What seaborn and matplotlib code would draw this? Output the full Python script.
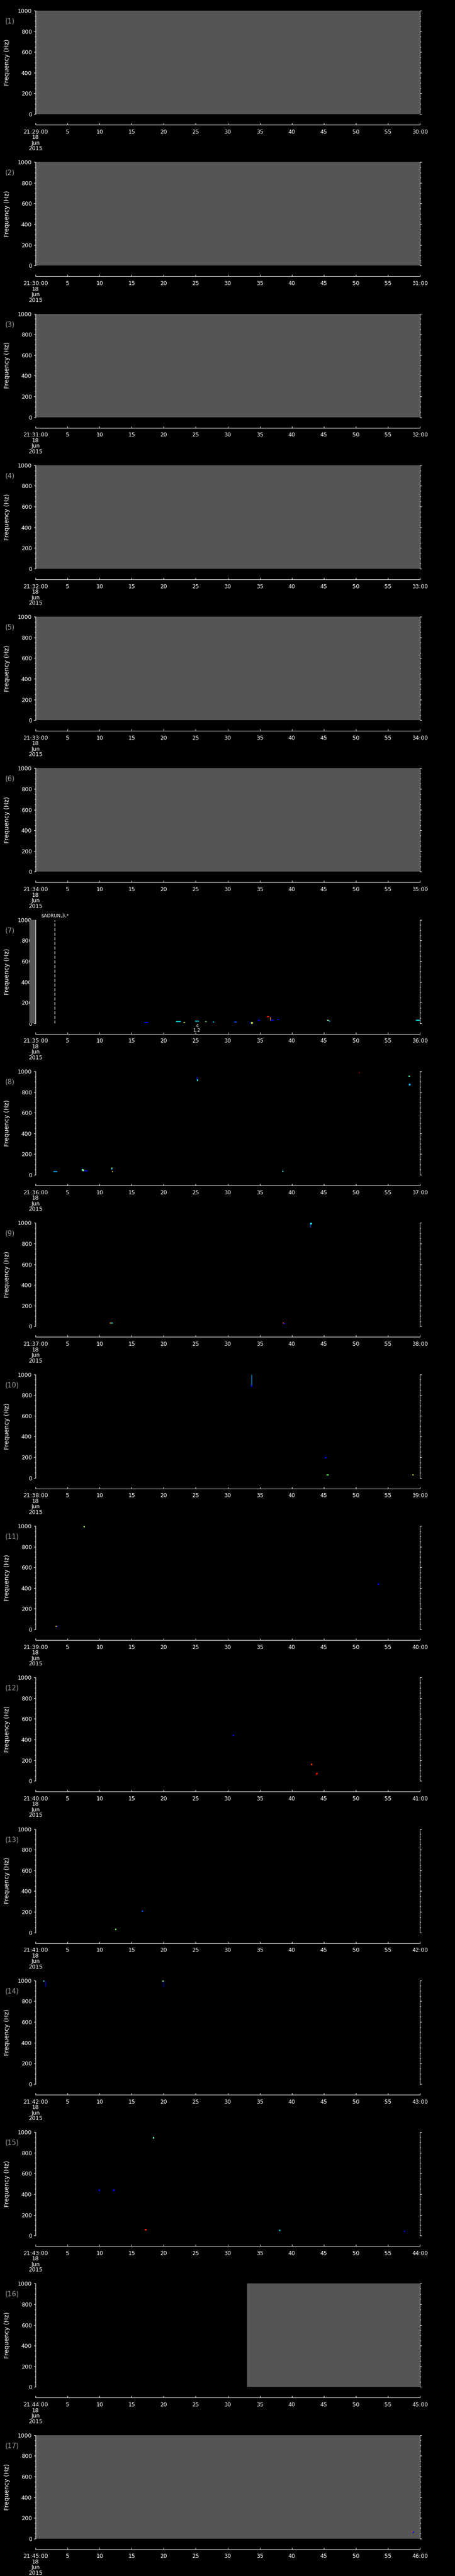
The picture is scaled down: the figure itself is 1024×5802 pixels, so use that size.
import numpy as np
import pandas as pd
import matplotlib
matplotlib.use("Agg")
import matplotlib.pyplot as plt
import seaborn as sns

# 17 one-minute panels, 18 Jun 2015, 21:29 -> 21:46
n_panels = 17
start_hour = 21
start_minute = 29
date_lines = ["18", "Jun", "2015"]

# missing-data (grey) spans: panel, start s, end s
gap_panel = [1, 2, 3, 4, 5, 6, 7, 16, 17]
gap_start = [0, 0, 0, 0, 0, 0, -1, 33, 0]
gap_end = [60, 60, 60, 60, 60, 60, 0, 60, 60]

# single spectrogram cells: panel, time (s), freq (Hz), level (0-1 on jet)
pt_panel = [7, 8, 8, 8, 8, 8, 9, 10, 10, 11, 11,
            12, 12, 12, 13, 13, 14, 14, 15, 15, 15, 15, 15, 15, 17, 17]
pt_time = [33.8, 7.3, 7.45, 11.9, 25.3, 58.4, 43.0, 33.7, 45.3, 7.6, 53.5,
           30.9, 43.1, 43.9, 16.7, 12.5, 1.3, 19.9, 18.4, 9.95, 12.2, 17.2, 38.1, 57.6, 58.8, 58.95]
pt_freq = [4, 47, 43, 57, 914, 871, 995, 888, 193, 995, 438,
           442, 159, 69, 206, 30, 1000, 1000, 944, 439, 439, 57, 51, 40, 66, 62]
pt_level = [0.6, 0.4, 0.55, 0.3, 0.35, 0.3, 0.35, 0.12, 0.12, 0.55, 0.12,
            0.12, 0.85, 0.9, 0.2, 0.5, 0.35, 0.5, 0.45, 0.12, 0.12, 0.88, 0.35, 0.1, 0.85, 0.15]

# horizontal streaks: panel, t0, t1, freq, level
hs_panel = [7, 7, 7, 7, 7, 7, 7, 7, 7, 7, 7, 7, 7, 7, 7,
            8, 8, 8, 8, 8, 8,
            9, 9, 9, 9,
            10, 10,
            11, 11]
hs_t0 = [17.0, 21.9, 23.1, 24.9, 26.5, 27.7, 31.0, 33.4, 34.7, 36.1, 36.7, 37.7, 45.5, 45.8, 59.4,
         2.8, 7.5, 11.8, 11.9, 38.5, 58.2,
         11.6, 11.8, 38.6, 38.8,
         45.4, 58.8,
         3.1, 3.3]
hs_t1 = [17.6, 22.7, 23.3, 25.5, 26.7, 27.9, 31.4, 34.0, 35.0, 36.5, 37.2, 38.0, 45.8, 46.0, 60.0,
         3.4, 8.1, 12.0, 12.1, 38.7, 58.5,
         11.8, 12.1, 38.8, 39.0,
         45.8, 59.0,
         3.3, 3.5]
hs_freq = [8, 15, 8, 21, 17, 13, 14, 4, 30, 64, 30, 38, 30, 22, 30,
           30, 40, 64, 30, 35, 953,
           30, 30, 33, 28,
           30, 30,
           30, 30]
hs_level = [0.12, 0.35, 0.6, 0.35, 0.5, 0.3, 0.2, 0.15, 0.12, 0.88, 0.12, 0.12, 0.5, 0.3, 0.35,
            0.3, 0.15, 0.6, 0.65, 0.35, 0.45,
            0.75, 0.35, 0.85, 0.12,
            0.5, 0.6,
            0.7, 0.15]

# vertical streaks: panel, time, f_low, f_high, level
vs_panel = [7, 8, 8, 9, 10, 14, 14]
vs_time = [36.6, 25.2, 50.5, 42.9, 33.7, 1.5, 20.0]
vs_flo = [30, 914, 983, 960, 888, 944, 935]
vs_fhi = [64, 953, 996, 1000, 1000, 995, 995]
vs_level = [0.75, 0.15, 0.9, 0.2, 0.3, 0.12, 0.05]

# event marker in panel 7
event_panel = 7
event_time = 3
event_label = "$ADRUN,3,*"
note_time = 25.2
note_text = "4\n1.2"

x_ticks = list(range(0, 61, 5))
y_major = list(range(0, 1001, 200))
y_minor = list(range(0, 1001, 50))

gaps = pd.DataFrame({"panel": gap_panel, "t0": gap_start, "t1": gap_end})
points = pd.DataFrame({"panel": pt_panel, "time": pt_time, "freq": pt_freq, "level": pt_level})
hstreaks = pd.DataFrame({"panel": hs_panel, "t0": hs_t0, "t1": hs_t1, "freq": hs_freq, "level": hs_level})
vstreaks = pd.DataFrame({"panel": vs_panel, "time": vs_time, "flo": vs_flo, "fhi": vs_fhi, "level": vs_level})

sns.set_theme(style="dark")
plt.rcParams["font.family"] = ["DejaVu Sans"]

W, H = 1024, 5802
fig = plt.figure(figsize=(W / 100, H / 100), dpi=100, facecolor="black")
cmap = plt.get_cmap("jet")
grey = "#555555"
panel_h = H / n_panels


def fy(px):
    return 1 - px / H


for i in range(n_panels):
    k = i + 1
    P = i * panel_h

    # spectrogram area
    ax = fig.add_axes([80 / W, fy(P + 257), 865 / W, 233 / H])
    ax.set_facecolor("black")
    ax.set_axisbelow(True)
    ax.set_xlim(0, 60)
    ax.set_ylim(0, 1000)

    for _, g in gaps[gaps.panel == k].iterrows():
        inside = g.t0 >= 0
        ax.axvspan(g.t0, g.t1, color=grey, lw=0, zorder=1 if inside else 2,
                   clip_on=inside)

    h = hstreaks[hstreaks.panel == k]
    if len(h):
        ax.hlines(h.freq, h.t0, h.t1, colors=[cmap(v) for v in h.level], lw=1.6, zorder=3)
    v = vstreaks[vstreaks.panel == k]
    if len(v):
        ax.vlines(v.time, v.flo, v.fhi, colors=[cmap(c) for c in v.level], lw=1.0, zorder=3)
    p = points[points.panel == k]
    if len(p):
        sns.scatterplot(data=p, x="time", y="freq", hue="level", palette=cmap,
                        hue_norm=(0, 1), marker="s", s=6, linewidth=0,
                        legend=False, ax=ax, zorder=4)

    ax.set_xlim(0, 60)
    ax.set_ylim(0, 1000)
    ax.set_xticks([])
    ax.set_xlabel("")
    ax.set_yticks(y_major)
    ax.set_yticks(y_minor, minor=True)
    ax.tick_params(axis="y", which="both", direction="out", colors="white",
                   left=True, right=True, labelleft=True, labelright=False,
                   width=0.8, labelsize=9, pad=3)
    ax.tick_params(axis="y", which="major", length=3)
    ax.tick_params(axis="y", which="minor", length=1.5)
    for side in ["top", "bottom"]:
        ax.spines[side].set_visible(False)
    for side in ["left", "right"]:
        ax.spines[side].set_visible(True)
        ax.spines[side].set_color("white")
        ax.spines[side].set_linewidth(0.8)
    ax.grid(False)
    ax.set_ylabel("Frequency (Hz)", color="white", fontsize=10)
    ax.yaxis.set_label_coords(-0.066, 0.5)

    if k == event_panel:
        ax.axvline(event_time, color="white", lw=1.0, ls=(0, (5, 2.5)), zorder=3)
        ax.annotate(event_label, (event_time, 1000), xytext=(0, 3), textcoords="offset points",
                    ha="center", va="bottom", color="white", fontsize=7.5, annotation_clip=False)
        ax.annotate(note_text, (note_time, 0), xytext=(0, -1), textcoords="offset points",
                    ha="center", va="top", color="white", fontsize=7.5, linespacing=0.95,
                    annotation_clip=False)

    fig.text(12 / W, fy(P + 48), f"({k})", color="#9a9a9a", fontsize=11,
             ha="left", va="center")

    # detached time axis
    ax2 = fig.add_axes([80 / W, fy(P + 281), 865 / W, 6 / H])
    ax2.patch.set_visible(False)
    ax2.set_xlim(0, 60)
    ax2.set_yticks([])
    for side in ["top", "left", "right"]:
        ax2.spines[side].set_visible(False)
    ax2.spines["bottom"].set_visible(True)
    ax2.spines["bottom"].set_color("white")
    ax2.spines["bottom"].set_linewidth(0.8)
    m0 = start_minute + i
    first = f"{start_hour}:{m0:02d}:00\n" + "\n".join(date_lines)
    last = f"{m0 + 1:02d}:00"
    labels = [first] + [str(t) for t in x_ticks[1:-1]] + [last]
    ax2.set_xticks(x_ticks)
    ax2.set_xticklabels(labels)
    ax2.tick_params(axis="x", direction="in", length=3, width=0.8, colors="white",
                    bottom=True, labelsize=9, pad=7)
    for lab in ax2.get_xticklabels():
        lab.set_linespacing(0.95)
    ax2.grid(False)

fig.savefig("out.png", dpi=100, facecolor="black")
